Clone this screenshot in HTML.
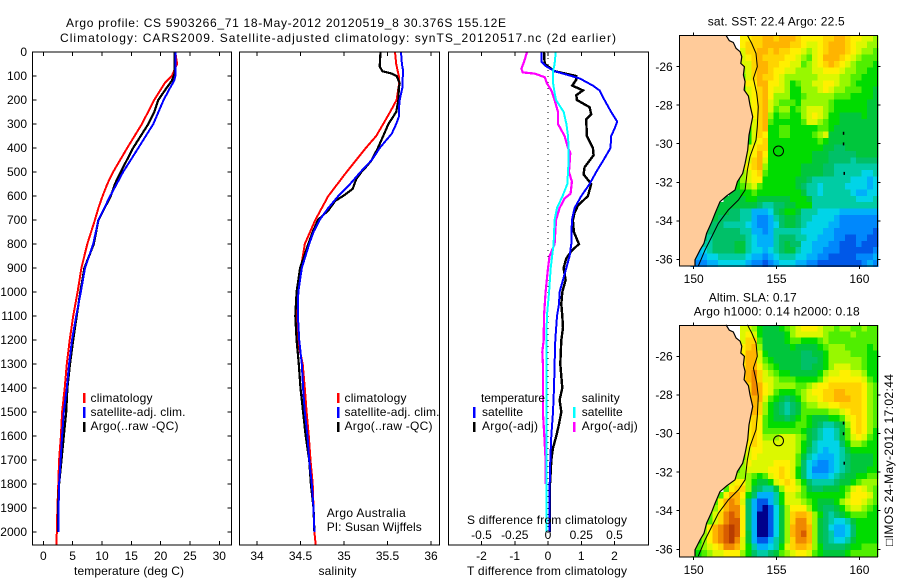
<!DOCTYPE html>
<html lang="en">
<head>
<meta charset="utf-8">
<title>Argo profile CS 5903266_71</title>
<style>
html,body{margin:0;padding:0;background:#fff;}
#chart{display:block;width:900px;height:580px;background:#fff;}
text{font-family:"Liberation Sans",Arial,sans-serif;font-size:12px;fill:#000;}
</style>
</head>
<body>
<svg id="chart" xmlns="http://www.w3.org/2000/svg" width="900" height="580" viewBox="0 0 900 580">
  <text x="66" y="27" textLength="440" lengthAdjust="spacing">Argo profile: CS 5903266_71 18-May-2012 20120519_8 30.376S 155.12E</text>
  <text x="60" y="42" textLength="556" lengthAdjust="spacing">Climatology: CARS2009. Satellite-adjusted climatology: synTS_20120517.nc (2d earlier)</text>

  <g id="map-sst"></g>
  <g id="map-sla"></g>
  <g id="panel-temp"></g>
  <g id="panel-sal"></g>
  <g id="panel-diff"></g>

  <text x="74" y="575" textLength="110" lengthAdjust="spacing">temperature (deg C)</text>
  <text x="318.5" y="575" textLength="38" lengthAdjust="spacing">salinity</text>
  <text x="467" y="575" textLength="160" lengthAdjust="spacing">T difference from climatology</text>
  <text x="467" y="524" textLength="160" lengthAdjust="spacing">S difference from climatology</text>

  <g>
    <rect x="83" y="393" width="2.5" height="10" fill="#ff0000"/>
    <rect x="83" y="407" width="2.5" height="11" fill="#0000ff"/>
    <rect x="83" y="422" width="2.5" height="10" fill="#000000"/>
    <text x="90.5" y="402" textLength="62" lengthAdjust="spacing">climatology</text>
    <text x="90.5" y="416" textLength="95" lengthAdjust="spacing">satellite-adj. clim.</text>
    <text x="90.5" y="430" textLength="88" lengthAdjust="spacing">Argo(..raw -QC)</text>
  </g>
  <g>
    <rect x="337" y="393" width="2.5" height="10" fill="#ff0000"/>
    <rect x="337" y="407" width="2.5" height="11" fill="#0000ff"/>
    <rect x="337" y="422" width="2.5" height="10" fill="#000000"/>
    <text x="344.5" y="402" textLength="62" lengthAdjust="spacing">climatology</text>
    <text x="344.5" y="416" textLength="95" lengthAdjust="spacing">satellite-adj. clim.</text>
    <text x="344.5" y="430" textLength="88" lengthAdjust="spacing">Argo(..raw -QC)</text>
  </g>
  <text x="326.7" y="517" textLength="79" lengthAdjust="spacing">Argo Australia</text>
  <text x="326.7" y="531" textLength="95" lengthAdjust="spacing">PI: Susan Wijffels</text>

  <g>
    <text x="481" y="402" textLength="64" lengthAdjust="spacing">temperature</text>
    <text x="482" y="416" textLength="41" lengthAdjust="spacing">satellite</text>
    <text x="482" y="430" textLength="56" lengthAdjust="spacing">Argo(-adj)</text>
    <rect x="473" y="407" width="2.5" height="11" fill="#0000ff"/>
    <rect x="473" y="422" width="2.5" height="10" fill="#000000"/>
    <text x="581.7" y="402" textLength="38" lengthAdjust="spacing">salinity</text>
    <text x="581.7" y="416" textLength="41" lengthAdjust="spacing">satellite</text>
    <text x="581.7" y="430" textLength="56" lengthAdjust="spacing">Argo(-adj)</text>
    <rect x="573" y="407" width="2.5" height="11" fill="#00ffff"/>
    <rect x="573" y="422" width="2.5" height="10" fill="#ff00ff"/>
  </g>

  <text x="707.7" y="25.7" textLength="137" lengthAdjust="spacing">sat. SST: 22.4 Argo: 22.5</text>
  <text x="708.7" y="301.7" textLength="88" lengthAdjust="spacing">Altim. SLA: 0.17</text>
  <text x="693.7" y="315.7" textLength="166" lengthAdjust="spacing">Argo h1000: 0.14 h2000: 0.18</text>
  <text transform="translate(893,546) rotate(-90)" textLength="172" lengthAdjust="spacing">□IMOS 24-May-2012 17:02:44</text>
</svg>

<script>
// ---- profile data (depth in m; temperature deg C; salinity; differences) ----
const depthTicks = [0,100,200,300,400,500,600,700,800,900,1000,1100,1200,1300,1400,1500,1600,1700,1800,1900,2000];
const tempTicks = [0,5,10,15,20,25,30];
const salTicks = [34,34.5,35,35.5,36];
const diffTTicks = [-2,-1,0,1,2];
const diffSTicks = [-0.5,-0.25,0,0.25,0.5];
const diffSTickLabels = ['-0.5','-0.25','0','0.25','0.5'];

const tempClimDepth = [0,50,100,130,200,300,400,500,550,600,650,700,800,900,1000,1100,1200,1300,1400,1500,1600,1700,1800,1900,2000,2054];
const tempClim = [22.5,22.8,21.9,20.7,18.9,16.8,14.3,11.9,10.9,10.1,9.4,8.8,7.5,6.5,5.85,5.1,4.5,4.0,3.65,3.2,3.0,2.7,2.55,2.4,2.3,2.25];
const tempSatDepth = [0,100,120,150,200,300,400,500,600,700,800,900,1000,1100,1200,1300,1400,1500,1600,1700,1800,1900,2000];
const tempSat = [22.5,22.5,22.3,21.6,20.5,18.75,16.2,13.6,11.4,9.4,8.5,7.1,6.4,5.6,4.9,4.4,4.0,3.5,3.2,2.95,2.7,2.6,2.55];
const tempArgoDepth = [0,90,120,150,200,250,300,400,500,550,600,700,800,900,1000,1100,1200,1300,1400,1500,1600,1700,1800,1900,2000];
const tempArgo = [22.4,22.4,21.9,21,19.6,18.9,17.9,15.3,13.2,12.2,11.5,9.4,8.6,7,6.3,5.7,5.1,4.55,4.1,3.9,3.5,3.1,2.7,2.5,2.5];

const salClimDepth = [0,50,100,130,200,250,300,350,400,500,600,700,800,900,1000,1100,1200,1300,1400,1500,1600,1700,1800,1900,2000,2054];
const salClim = [35.586,35.6,35.63,35.635,35.605,35.53,35.45,35.37,35.25,35.03,34.82,34.67,34.55,34.505,34.465,34.45,34.465,34.525,34.55,34.57,34.595,34.615,34.64,34.65,34.66,34.675];
const salSatDepth = [0,50,80,130,150,200,240,270,300,340,400,450,500,550,600,650,700,750,800,900,1000,1100,1200,1300,1400,1500,1600,1700,1800,1900,2000];
const salSat = [35.655,35.665,35.68,35.67,35.67,35.64,35.63,35.63,35.6,35.55,35.41,35.32,35.19,35.07,34.935,34.82,34.72,34.65,34.6,34.515,34.475,34.47,34.485,34.515,34.53,34.55,34.58,34.6,34.63,34.65,34.66];
const salArgoDepth = [0,60,80,90,100,130,150,200,250,300,350,400,450,480,500,530,570,600,620,660,700,750,800,900,1000,1100,1200,1300,1400,1500,1600,1700,1800,1900,2000];
const salArgo = [35.42,35.41,35.44,35.55,35.605,35.64,35.63,35.625,35.6,35.51,35.45,35.39,35.32,35.25,35.2,35.14,35.1,34.99,34.9,34.82,34.7,34.64,34.59,34.495,34.455,34.44,34.455,34.48,34.5,34.53,34.56,34.6,34.62,34.65,34.66];

const diffTSatDepth = [0,40,60,80,110,140,160,200,250,290,320,350,400,450,500,550,600,650,700,800,850,900,1000,1050,1100,1200,1300,1400,1500,1600,1700,1800,2000];
const diffTSat = [-0.2,-0.2,-0.05,0.2,0.95,1.35,1.55,1.7,1.9,2.08,2,1.9,1.88,1.67,1.45,1.25,1.0,0.8,0.72,0.7,0.65,0.55,0.35,0.33,0.27,0.22,0.2,0.18,0.15,0.1,0.07,0.05,0.05];
const diffTArgoDepth = [0,50,80,100,115,140,160,180,200,230,260,280,350,400,430,480,510,550,600,640,670,700,750,800,830,860,900,950,1000,1050,1100,1150,1200,1300,1400,1450,1500,1550,1600,1650,1700,1750,1800,2000];
const diffTArgo = [-0.12,-0.1,0.2,0.85,0.85,0.73,1.05,0.85,0.87,1.25,1.3,1.15,1.17,1.35,1.37,1.1,1.07,1.3,1.2,0.9,0.8,0.75,0.78,0.93,0.7,0.55,0.47,0.53,0.43,0.4,0.43,0.45,0.4,0.37,0.43,0.35,0.4,0.33,0.25,0.15,0.1,0.08,0.06,0.05];
const diffSSatDepth = [0,50,80,130,170,200,250,300,350,400,450,500,550,600,650,700,800,900,1000,1100,1200,1400,1600,1800,2000];
const diffSSat = [0.058,0.05,0.038,0.038,0.05,0.06,0.118,0.138,0.15,0.155,0.155,0.15,0.145,0.11,0.068,0.05,0.042,0.02,0.008,-0.008,-0.012,-0.012,-0.012,-0.012,-0.012];
const diffSArgoDepth = [0,40,70,85,90,105,130,160,200,250,300,350,400,420,500,540,590,610,650,700,800,850,900,1000,1100,1200,1250,1300,1400,1500,1600,1700,1800];
const diffSArgo = [-0.158,-0.18,-0.2,-0.19,-0.1,-0.025,-0.008,0.025,0.05,0.075,0.075,0.125,0.15,0.168,0.158,0.18,0.17,0.125,0.087,0.06,0.05,0.012,0,-0.018,-0.03,-0.032,-0.043,-0.038,-0.038,-0.038,-0.028,-0.018,-0.018];

// ---- map data: colour-level rows, right aligned to the eastern edge (land omitted) ----
const mapLonTicks = [150,155,160];
const mapLatTicks = [-26,-28,-30,-32,-34,-36];
const profileLon = 155.12;
const profileLat = -30.376;
const sstLevels = [
[12,12,13,13,14,14,13,14,14,14,13,12,12,12,12,13,13,14,14,13,12,12,11,11,10],
[12,13,13,13,14,14,14,14,14,13,13,12,11,11,12,13,14,14,14,13,12,11,11,10,10],
[11,13,13,14,14,13,14,13,13,12,12,11,10,11,12,13,14,14,14,13,12,11,10,10,9],
[11,12,13,14,13,13,13,13,12,12,11,10,9,11,12,14,14,14,13,12,11,10,9,9,9],
[11,11,13,14,14,13,13,12,12,11,11,9,10,11,12,13,14,13,12,11,10,9,9,9,8],
[10,11,13,14,14,13,12,12,11,11,10,10,10,11,11,12,12,12,11,10,10,9,9,8,8],
[9,11,13,14,13,13,12,11,10,10,10,10,10,10,11,11,11,11,10,10,9,9,8,8,8],
[9,12,12,14,14,12,12,11,10,8,9,10,10,11,11,12,12,11,10,10,9,8,8,8,8],
[8,11,12,13,14,12,11,11,10,8,8,10,10,10,11,12,11,10,10,9,9,9,8,8,7],
[11,12,13,14,12,10,10,10,8,8,9,10,10,10,10,10,9,9,9,8,8,8,8,7],
[11,12,13,14,11,10,9,9,9,8,10,10,10,10,10,9,8,8,8,8,8,8,7,7],
[11,12,13,14,11,9,10,10,8,9,10,11,11,11,10,9,8,8,8,8,8,8,7,7],
[10,12,13,14,10,8,9,9,8,8,10,11,12,11,10,8,8,7,7,7,7,8,7,7],
[9,11,13,14,9,8,8,8,8,8,9,11,11,10,9,8,8,7,7,7,7,7,7,7],
[8,11,13,14,8,8,9,9,8,8,8,8,8,9,9,8,7,7,7,7,7,7,7,7],
[8,8,11,13,12,8,8,9,9,8,8,8,8,9,10,11,7,7,7,7,7,7,7,7,7],
[8,8,11,12,13,8,8,8,8,8,8,8,8,8,9,8,7,7,7,7,7,7,7,7,7],
[10,11,12,13,13,8,8,8,8,8,8,8,8,8,8,7,7,6,6,7,7,7,7,7,7],
[10,11,12,14,12,8,8,8,8,8,8,8,8,7,7,7,6,6,6,6,6,7,7,7,7],
[10,11,13,14,11,8,8,8,8,8,8,8,8,7,7,7,6,6,6,6,5,6,6,6,6],
[11,12,13,14,10,8,8,8,8,8,8,7,7,7,7,6,6,5,5,5,5,5,5,5,5],
[8,10,11,12,13,9,8,8,8,8,8,8,7,7,7,7,6,6,5,5,5,5,5,4,4,5],
[8,10,11,12,12,8,8,8,8,8,8,7,7,6,5,5,5,5,5,5,5,4,4,4,3,4],
[8,9,10,11,9,8,8,8,8,8,8,7,6,5,5,4,5,5,5,5,4,4,4,4,3,4],
[7,7,8,8,9,8,8,8,8,8,8,8,8,7,5,5,4,5,5,5,5,5,4,3,3,4,4],
[7,7,7,7,8,8,7,7,7,7,7,7,8,8,8,7,5,5,5,5,5,5,5,5,4,4,4,5],
[7,7,7,7,7,7,7,6,5,5,6,6,7,7,8,8,8,5,5,5,5,5,5,5,5,5,5,5,5],
[7,7,7,6,6,5,5,3,3,3,4,6,7,8,8,7,5,5,5,4,4,4,4,3,3,3,3,3,3,3],
[7,6,6,6,6,5,5,3,2,2,3,5,6,7,7,6,5,5,4,4,4,4,3,2,2,2,2,2,2,2],
[6,6,6,5,5,5,5,4,3,2,2,3,4,6,7,7,6,5,4,4,4,4,3,3,2,2,2,2,2,2,2],
[6,6,6,6,6,6,5,5,3,3,2,3,5,5,5,5,5,4,4,4,4,3,3,2,2,2,2,2,2,2,1],
[6,5,6,6,6,6,6,6,5,4,3,3,3,5,6,6,6,5,5,4,4,3,3,3,2,2,1,1,2,2,1,1],
[5,5,6,6,6,6,7,7,5,4,3,3,3,5,6,7,6,6,4,4,3,3,3,2,2,1,1,1,2,1,1,1],
[3,4,5,6,6,6,6,7,7,5,4,4,3,4,5,6,7,7,5,4,4,3,3,2,2,2,1,1,1,1,1,1,2],
[2,3,3,4,4,5,5,5,5,5,4,3,3,2,3,4,5,5,5,4,4,3,3,2,2,1,1,1,1,1,2,2,2,3],
[2,2,2,3,3,4,4,4,4,4,3,2,2,1,2,3,4,4,4,3,3,2,2,1,1,1,1,1,1,1,1,2,3,2]
];
const slaLevels = [
[11,11,10,8,7,7,7,8,9,10,11,12,12,12,11,10,10,9,10,10,9,9,10,9,9],
[11,12,11,8,7,7,7,7,8,10,11,11,11,11,11,10,9,9,9,9,10,9,9,9,9],
[11,13,13,9,7,7,7,7,8,9,9,8,8,8,9,10,9,9,9,9,9,9,9,9,9],
[12,13,14,10,7,7,7,7,7,8,7,7,7,7,8,9,10,10,10,9,9,9,9,8,9],
[12,14,14,11,8,7,7,7,7,7,7,6,6,7,7,8,10,10,10,10,9,9,9,8,8],
[12,14,14,11,9,8,7,7,7,7,7,6,6,6,7,8,10,10,10,10,10,10,9,8,8],
[12,14,14,12,10,9,8,7,7,7,7,6,6,7,7,8,10,11,11,11,10,10,9,8,8],
[12,14,15,13,11,10,9,8,8,7,7,7,7,7,8,10,11,11,12,12,11,11,10,8,8],
[12,14,15,13,11,11,10,9,9,9,8,8,8,8,9,11,12,12,12,12,12,12,11,9,8],
[13,15,14,12,11,10,10,10,10,9,9,10,11,12,12,13,13,13,13,13,13,12,10,9],
[13,15,14,12,11,9,8,8,8,9,10,11,12,12,13,13,14,14,13,13,13,12,10,9],
[13,14,14,11,9,8,7,6,7,8,10,11,11,12,13,13,14,14,14,13,13,12,10,9],
[13,14,13,10,8,7,6,5,6,7,9,10,10,11,11,12,12,13,13,13,13,12,10,9],
[12,14,13,10,8,7,6,5,6,7,9,9,9,9,9,10,10,11,12,13,13,12,10,9],
[12,13,12,9,8,7,7,6,7,8,9,8,7,7,7,8,8,9,11,12,13,12,10,9],
[11,12,13,12,9,8,8,8,8,8,9,9,8,7,6,5,5,6,7,10,12,13,12,10,9],
[11,12,13,12,9,9,9,9,9,9,9,8,7,6,5,4,4,5,7,9,12,13,12,10,8],
[10,12,13,12,10,10,10,11,11,11,10,9,7,6,5,4,4,5,7,9,11,12,11,9,8],
[10,12,13,12,11,11,11,11,11,11,10,8,7,5,4,4,4,4,6,8,10,10,9,8,8],
[10,11,12,12,11,11,11,11,11,11,10,8,6,5,4,3,4,4,5,7,8,8,8,8,8],
[9,11,12,11,11,11,11,11,11,11,9,7,5,4,3,3,3,4,5,6,7,7,7,7,8],
[8,10,12,11,11,11,11,12,12,12,11,9,6,4,3,2,2,3,4,5,6,7,7,7,7,8],
[9,10,11,11,11,11,12,12,13,12,11,8,6,4,2,2,2,3,4,5,6,7,7,7,8,8],
[10,10,10,9,8,9,11,12,13,12,11,8,6,4,3,3,3,4,5,6,7,7,8,8,9,9],
[11,12,12,10,8,7,7,8,11,12,13,12,10,8,6,5,5,5,5,6,7,7,8,9,10,10,10],
[9,12,13,13,10,7,6,5,5,7,10,12,12,11,9,7,6,6,7,7,7,8,9,11,12,11,10,9],
[9,12,14,14,12,8,6,3,3,3,5,8,11,11,10,9,8,8,8,8,8,8,8,10,12,12,12,11,9],
[9,12,14,15,14,11,6,3,1,1,3,5,8,11,11,11,10,9,8,7,7,7,8,10,11,12,12,11,10,9],
[10,12,14,15,15,12,6,3,1,0,1,4,7,10,12,12,12,10,8,7,6,6,7,8,10,11,11,10,9,8],
[9,11,13,15,16,15,12,6,3,0,0,1,4,7,10,13,14,14,13,10,8,6,5,6,7,8,9,9,9,8,8],
[9,11,13,15,16,16,12,6,3,0,0,1,4,7,10,13,15,15,13,10,7,6,5,4,4,5,7,8,8,8,8],
[10,12,14,15,16,17,16,12,6,3,0,0,1,4,7,10,14,15,15,14,10,7,6,4,3,3,4,6,8,8,8,8],
[10,12,14,15,16,17,16,12,7,3,0,0,1,4,7,10,14,15,16,14,10,7,6,5,3,3,4,6,8,8,8,8],
[8,10,12,14,15,16,17,15,11,7,3,1,1,3,5,7,10,13,15,15,14,10,7,6,5,4,4,5,7,8,8,8,8],
[8,9,10,11,12,13,15,15,14,11,8,5,3,3,4,5,8,11,13,14,14,13,10,8,6,6,6,6,7,8,8,9,9,9],
[8,8,9,10,11,11,12,12,12,10,8,6,5,5,6,7,9,10,11,12,12,11,9,8,7,7,7,7,8,9,9,9,9,9]
];
const coastLon = [151.95,152.15,152.39,152.56,152.80,152.90,152.84,153.06,153.0,153.10,153.04,153.30,153.40,153.56,153.46,153.34,153.26,153.10,152.96,152.64,152.49,151.99,151.59,151.29,151.09,150.78,150.62,150.38,150.08,150.08];
const coastLat = [-24.37,-24.65,-24.74,-25.05,-25.22,-25.48,-25.83,-26.0,-26.43,-26.78,-27.21,-27.52,-27.99,-28.60,-29.03,-29.55,-30.33,-31.02,-31.54,-31.97,-32.40,-32.71,-33.01,-33.61,-34.05,-34.65,-35.17,-35.52,-36.03,-36.35];
const isobathLon = [153.24,153.50,153.76,153.84,153.60,153.80,153.90,153.84,153.76,153.40,153.24,153.10,152.70,152.09,151.49,151.09,150.68,150.28];
const isobathLat = [-24.37,-24.79,-25.31,-26,-26.61,-27.38,-28.08,-29.11,-29.81,-30.67,-31.36,-32.40,-32.92,-33.44,-34.13,-34.82,-35.52,-36.35];
const islandLon = [159.03,159.03,159.07];
const islandLat = [-29.46,-30.01,-31.54];
const levelColors = ['#00008c','#0058e8','#0088fc','#00b0fa','#00d4e8','#00cca4','#00c068','#00c63c','#00dc00','#50ee00','#98f800','#dcf800','#fff000','#ffd400','#ffb400','#f08800','#d85c00','#b83c00'];

// ---- axis functions ----
const yDepth = d => 52 + 0.24 * d;
const xTemp = v => 43.3 + 5.867 * v;
const xSal = v => 257 + 87 * (v - 34);
const xDiffT = v => 548 + 33.25 * v;
const xDiffS = v => 548 + 133 * v;
const panelTop = 52, panelBottom = 545;
const mapLeft = 679.3, mapRight = 877.3, lonStart = 149.14, latStart = -24.37, cellDeg = 1 / 3, gridSize = 36;
const mapX = lon => 693.7 + 16.57 * (lon - 150);
const NS = 'http://www.w3.org/2000/svg';

function svgEl(tag, attrs, parent) {
  const el = document.createElementNS(NS, tag);
  for (const k in attrs) el.setAttribute(k, attrs[k]);
  parent.appendChild(el);
  return el;
}

function drawSeries(parent, depths, values, xFn, color, width, name) {
  const pts = depths.map((d, i) => xFn(values[i]).toFixed(1) + ',' + yDepth(d).toFixed(1)).join(' ');
  const line = svgEl('polyline', {points: pts, fill: 'none', stroke: color, 'stroke-width': width, 'shape-rendering': 'crispEdges'}, parent);
  
  
}

function drawPanel(parent, left, right, ticks, xFn, labels, withDepth, name) {
  const frame = svgEl('rect', {x: left, y: panelTop, width: right - left, height: panelBottom - panelTop, fill: 'none', stroke: '#000', 'stroke-width': 1, 'shape-rendering': 'crispEdges'}, parent);
  
  
  ticks.forEach((t, i) => {
    const x = xFn(t);
    const tk = svgEl('path', {d: 'M' + x + ' ' + panelTop + 'v4M' + x + ' ' + panelBottom + 'v-4', stroke: '#000', fill: 'none', 'shape-rendering': 'crispEdges'}, parent);
    
    
    const lb = svgEl('text', {x: x, y: 560, 'text-anchor': 'middle'}, parent);
    lb.textContent = labels[i];
    
    
  });
  if (withDepth) {
    depthTicks.forEach(d => {
      const y = yDepth(d);
      const tk = svgEl('path', {d: 'M' + left + ' ' + y + 'h4M' + right + ' ' + y + 'h-4', stroke: '#000', fill: 'none', 'shape-rendering': 'crispEdges'}, parent);
      
      
      const lb = svgEl('text', {x: 27, y: y + 4.2, 'text-anchor': 'end'}, parent);
      lb.textContent = d;
      
      
    });
  }
}

function drawMap(parent, levels, yFn, top, bottom, labelY, name) {
  const bg = svgEl('rect', {x: mapLeft, y: top, width: mapRight - mapLeft, height: bottom - top, fill: '#fff'}, parent);
  
  
  levels.forEach((row, r) => {
    const offset = gridSize - row.length;
    row.forEach((v, i) => {
      const lon = lonStart + (offset + i) * cellDeg;
      const lat = latStart - r * cellDeg;
      const x0 = mapX(lon), x1 = mapX(lon + cellDeg), y0 = yFn(lat), y1 = yFn(lat - cellDeg);
      const idx = Math.max(0, Math.min(levelColors.length - 1, Math.round(v)));
      const cell = svgEl('rect', {x: x0.toFixed(2), y: y0.toFixed(2), width: (x1 - x0 + 0.4).toFixed(2), height: (y1 - y0 + 0.4).toFixed(2), fill: levelColors[idx], 'shape-rendering': 'crispEdges'}, parent);
      
      
    });
  });
  const coastPts = coastLon.map((lo, i) => mapX(lo).toFixed(1) + ',' + yFn(coastLat[i]).toFixed(1));
  const land = svgEl('polygon', {points: coastPts.join(' ') + ' ' + mapLeft + ',' + bottom + ' ' + mapLeft + ',' + top, fill: '#ffcb9a'}, parent);
  
  
  const coast = svgEl('polyline', {points: coastPts.join(' '), fill: 'none', stroke: '#000', 'stroke-width': 1.2}, parent);
  
  
  const iso = svgEl('polyline', {points: isobathLon.map((lo, i) => mapX(lo).toFixed(1) + ',' + yFn(isobathLat[i]).toFixed(1)).join(' '), fill: 'none', stroke: '#000', 'stroke-width': 1}, parent);
  
  
  islandLon.forEach((lo, i) => {
    const isl = svgEl('rect', {x: (mapX(lo) - 0.5).toFixed(1), y: (yFn(islandLat[i]) - 1.5).toFixed(1), width: 1.5, height: 3, fill: '#000'}, parent);
    
    
  });
  const marker = svgEl('circle', {cx: mapX(profileLon).toFixed(1), cy: yFn(profileLat).toFixed(1), r: 5, fill: 'none', stroke: '#000', 'stroke-width': 1}, parent);
  
  
  const frame = svgEl('rect', {x: mapLeft, y: top, width: mapRight - mapLeft, height: bottom - top, fill: 'none', stroke: '#000', 'shape-rendering': 'crispEdges'}, parent);
  
  
  mapLonTicks.forEach(lo => {
    const x = mapX(lo);
    const tk = svgEl('path', {d: 'M' + x + ' ' + top + 'v-3M' + x + ' ' + bottom + 'v3', stroke: '#000', fill: 'none', 'shape-rendering': 'crispEdges'}, parent);
    
    
    const lb = svgEl('text', {x: x, y: labelY, 'text-anchor': 'middle'}, parent);
    lb.textContent = lo;
    
    
  });
  mapLatTicks.forEach(la => {
    const y = yFn(la);
    const tk = svgEl('path', {d: 'M' + mapLeft + ' ' + y + 'h-3M' + mapRight + ' ' + y + 'h3', stroke: '#000', fill: 'none', 'shape-rendering': 'crispEdges'}, parent);
    
    
    const lb = svgEl('text', {x: 672.7, y: y + 4.2, 'text-anchor': 'end'}, parent);
    lb.textContent = la;
    
    
  });
}

// ---- build panels ----
const pT = document.getElementById('panel-temp');
drawSeries(pT, tempClimDepth, tempClim, xTemp, '#ff0000', 2, 'temperature-climatology-line');
drawSeries(pT, tempArgoDepth, tempArgo, xTemp, '#000000', 2.2, 'temperature-argo-line');
drawSeries(pT, tempSatDepth, tempSat, xTemp, '#0000ff', 2, 'temperature-satellite-line');
drawPanel(pT, 32.5, 231.5, tempTicks, xTemp, tempTicks, true, 'temperature-panel');

const pS = document.getElementById('panel-sal');
drawSeries(pS, salClimDepth, salClim, xSal, '#ff0000', 2, 'salinity-climatology-line');
drawSeries(pS, salArgoDepth, salArgo, xSal, '#000000', 2.2, 'salinity-argo-line');
drawSeries(pS, salSatDepth, salSat, xSal, '#0000ff', 2, 'salinity-satellite-line');
drawPanel(pS, 239.5, 439.5, salTicks, xSal, salTicks, false, 'salinity-panel');

const pD = document.getElementById('panel-diff');
const zeroLine = svgEl('line', {x1: xDiffT(0), x2: xDiffT(0), y1: panelTop, y2: panelBottom, stroke: '#000', 'stroke-dasharray': '1 5', 'shape-rendering': 'crispEdges'}, pD);


drawSeries(pD, diffTArgoDepth, diffTArgo, xDiffT, '#000000', 2.4, 'diff-t-argo-line');
drawSeries(pD, diffTSatDepth, diffTSat, xDiffT, '#0000ff', 2, 'diff-t-satellite-line');
drawSeries(pD, diffSArgoDepth, diffSArgo, xDiffS, '#ff00ff', 2.2, 'diff-s-argo-line');
drawSeries(pD, diffSSatDepth, diffSSat, xDiffS, '#00ffff', 2, 'diff-s-satellite-line');
drawPanel(pD, 448.5, 648.5, diffTTicks, xDiffT, diffTTicks, false, 'difference-panel');
diffSTicks.forEach((t, i) => {
  const lb = svgEl('text', {x: xDiffS(t), y: 539, 'text-anchor': 'middle'}, pD);
  lb.textContent = diffSTickLabels[i];
  
  
});

// ---- build maps ----
drawMap(document.getElementById('map-sst'), sstLevels, lat => 66.7 + 19.26 * (-26 - lat), 35.3, 266, 283, 'sst-map');
drawMap(document.getElementById('map-sla'), slaLevels, lat => 356.3 + 19.3 * (-26 - lat), 325.3, 557, 574, 'sla-map');
</script>
</body>
</html>
